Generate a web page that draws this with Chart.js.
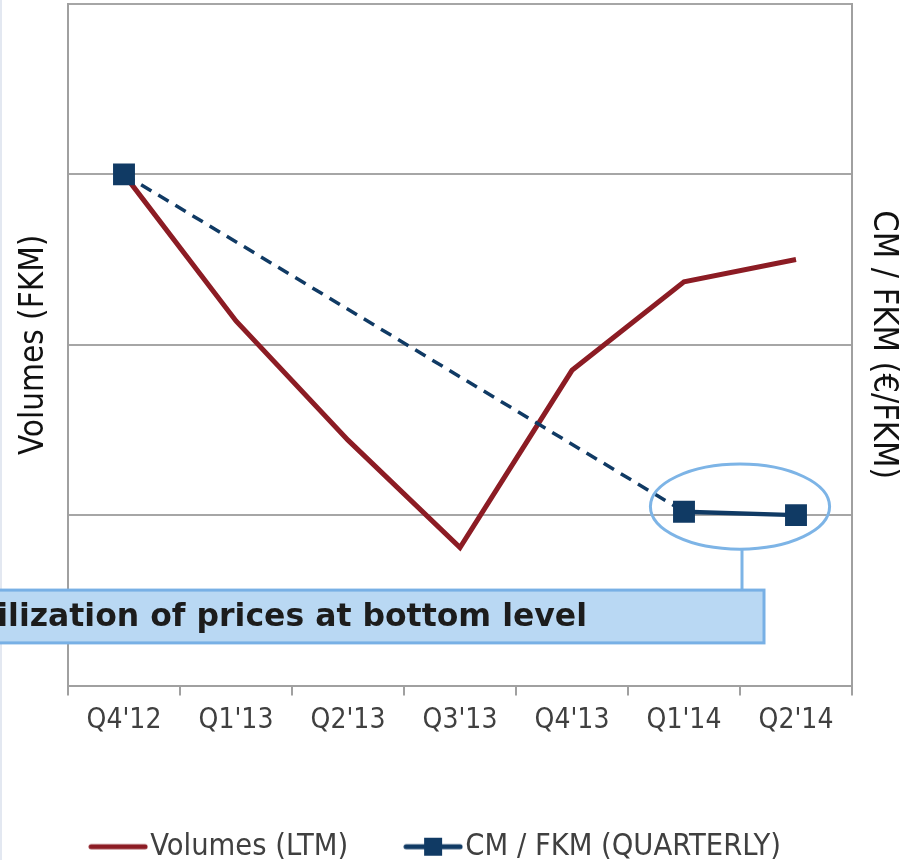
<!DOCTYPE html>
<html>
<head>
<meta charset="utf-8">
<script src="https://cdn.jsdelivr.net/npm/chart.js@4/dist/chart.umd.min.js"></script>
<style>
  html, body { margin: 0; padding: 0; background: #fff; }
  #wrap { width: 910px; height: 860px; }
</style>
</head>
<body>
<div id="wrap"><canvas id="chart" width="910" height="860"></canvas></div>
<script>
// data
const quarters = ["Q4'12", "Q1'13", "Q2'13", "Q3'13", "Q4'13", "Q1'14", "Q2'14"];
const volumesLtm = [3.0, 2.14, 1.44, 0.81, 1.85, 2.37, 2.50];
const cmPerFkm = [3.0, null, null, null, null, 1.02, 1.0];
const gridTicks = [0, 1, 2, 3, 4];

const red = '#8c1c24';
const navy = '#103a64';
const fontFam = '"DejaVu Sans Condensed", "DejaVu Sans", Verdana, sans-serif';

// legend sample pictures: plain line, line with square marker
makeSample = (color, withSquare) => {
    let c = document.createElement('canvas');
    c.width = 60; c.height = 20;
    let g = c.getContext('2d');
    g.strokeStyle = color;
    g.lineWidth = 5;
    g.lineCap = 'round';
    g.beginPath(); g.moveTo(3, 10); g.lineTo(57, 10); g.stroke();
    if (withSquare) {
        g.fillStyle = color;
        g.fillRect(21, 1, 18, 18);
    }
    return c;
}
const sampleRed = makeSample(red, false);
const sampleNavy = makeSample(navy, true);

// dashed (and thinner) where the quarterly series spans missing quarters
const isGap = (ctx) => ctx.p0.skip || ctx.p1.skip;
const gapDash = (ctx) => isGap(ctx) ? [12, 8] : undefined;
const gapWidth = (ctx) => isGap(ctx) ? 3.5 : 4.5;

// callout: ellipse round the last two quarters, box with the message
const calloutPlugin = {
    id: 'callout',
    afterLayout(chart) {
        // legend sits a bit left of centre in the original
        chart.legend.right -= 28;
    },
    beforeDraw(chart) {
        let ctx = chart.ctx;
        ctx.save();
        ctx.fillStyle = '#e3e8f1';
        ctx.fillRect(0, 0, 2, chart.height);
        ctx.restore();
    },
    afterDatasetsDraw(chart) {
        let ctx = chart.ctx;
        let x = chart.scales.x, y = chart.scales.y;
        let step = x.getPixelForValue(1) - x.getPixelForValue(0);
        let cx = (x.getPixelForValue(5) + x.getPixelForValue(6)) / 2;
        let cy = y.getPixelForValue(1.05);
        let rx = step * 0.8, ry = y.getPixelForValue(0) - y.getPixelForValue(0.25);
        let boxTop = y.getPixelForValue(0.56), boxBottom = y.getPixelForValue(0.25);
        let boxRight = cx + 24;

        ctx.save();
        ctx.strokeStyle = '#7db4e6';
        ctx.lineWidth = 3;
        ctx.beginPath();
        ctx.ellipse(cx, cy, rx, ry, 0, 0, Math.PI * 2);
        ctx.stroke();

        ctx.beginPath();
        ctx.moveTo(cx + 2, cy + ry);
        ctx.lineTo(cx + 2, boxTop);
        ctx.stroke();

        ctx.fillStyle = '#b9d8f3';
        ctx.strokeStyle = '#78b0e5';
        ctx.fillRect(-20, boxTop, boxRight + 20, boxBottom - boxTop);
        ctx.strokeRect(-20, boxTop, boxRight + 20, boxBottom - boxTop);

        ctx.fillStyle = '#1c1c1c';
        ctx.font = 'bold 31.5px "DejaVu Sans", Verdana, sans-serif';
        ctx.textAlign = 'right';
        ctx.textBaseline = 'middle';
        ctx.fillText('Stabilization of prices at bottom level', boxRight - 177, (boxTop + boxBottom) / 2 + 1);
        ctx.restore();
    }
};

const chart = new Chart(document.getElementById('chart'), {
    type: 'line',
    data: {
        labels: quarters,
        datasets: [
            {
                label: 'Volumes (LTM)',
                data: volumesLtm,
                borderColor: red,
                backgroundColor: red,
                borderWidth: 5,
                pointRadius: 0,
                tension: 0,
                yAxisID: 'y',
                order: 1
            },
            {
                label: 'CM / FKM (QUARTERLY)',
                data: cmPerFkm,
                borderColor: navy,
                backgroundColor: navy,
                borderWidth: 4,
                pointStyle: 'rect',
                pointRadius: 15.5,
                pointHoverRadius: 15.5,
                pointBorderWidth: 0,
                pointBackgroundColor: navy,
                spanGaps: true,
                segment: { borderDash: gapDash, borderWidth: gapWidth },
                tension: 0,
                yAxisID: 'y2',
                order: 0
            }
        ]
    },
    options: {
        responsive: false,
        animation: false,
        events: [],
        layout: { autoPadding: false, padding: { top: 4, left: 0, right: 0, bottom: -12 } },
        plugins: {
            tooltip: { enabled: false },
            legend: {
                position: 'bottom',
                labels: {
                    usePointStyle: true,
                    pointStyleWidth: 34,
                    padding: 68,
                    color: '#404040',
                    font: { family: fontFam, size: 30.5 },
                    generateLabels: (ch) => ch.data.datasets.map((ds, i) => ({
                        text: ds.label,
                        pointStyle: i === 0 ? sampleRed : sampleNavy,
                        fillStyle: ds.borderColor,
                        strokeStyle: ds.borderColor,
                        lineWidth: 0,
                        hidden: false,
                        datasetIndex: i,
                        fontColor: '#404040'
                    }))
                }
            }
        },
        scales: {
            x: {
                offset: true,
                grid: {
                    offset: true,
                    drawOnChartArea: false,
                    drawTicks: true,
                    tickLength: 10,
                    color: '#a0a0a0',
                    lineWidth: 2
                },
                border: { color: '#a0a0a0', width: 2 },
                ticks: {
                    color: '#404040',
                    padding: 8,
                    maxRotation: 0,
                    font: { family: fontFam, size: 28 }
                },
                afterFit: (s) => { s.height = 78; }
            },
            y: {
                position: 'left',
                min: gridTicks[0],
                max: gridTicks[gridTicks.length - 1],
                afterBuildTicks: (s) => { s.ticks = gridTicks.map(v => ({ value: v })); },
                grid: { color: '#a6a6a6', lineWidth: 2, drawTicks: false },
                border: { color: '#a0a0a0', width: 2 },
                ticks: { display: false },
                title: {
                    display: true,
                    text: 'Volumes (FKM)',
                    color: '#111',
                    font: { family: fontFam, size: 33 },
                    padding: { top: 15, bottom: 0 }
                },
                afterFit: (s) => { s.width = 68; }
            },
            y2: {
                position: 'right',
                min: gridTicks[0],
                max: gridTicks[gridTicks.length - 1],
                grid: { drawOnChartArea: false, drawTicks: false },
                border: { color: '#a0a0a0', width: 2 },
                ticks: { display: false },
                title: {
                    display: true,
                    text: 'CM / FKM (€/FKM)',
                    color: '#111',
                    font: { family: fontFam, size: 34 },
                    padding: { top: 6.5, bottom: 0 }
                },
                afterFit: (s) => { s.width = 58; }
            }
        }
    },
    plugins: [calloutPlugin]
});
</script>
</body>
</html>
